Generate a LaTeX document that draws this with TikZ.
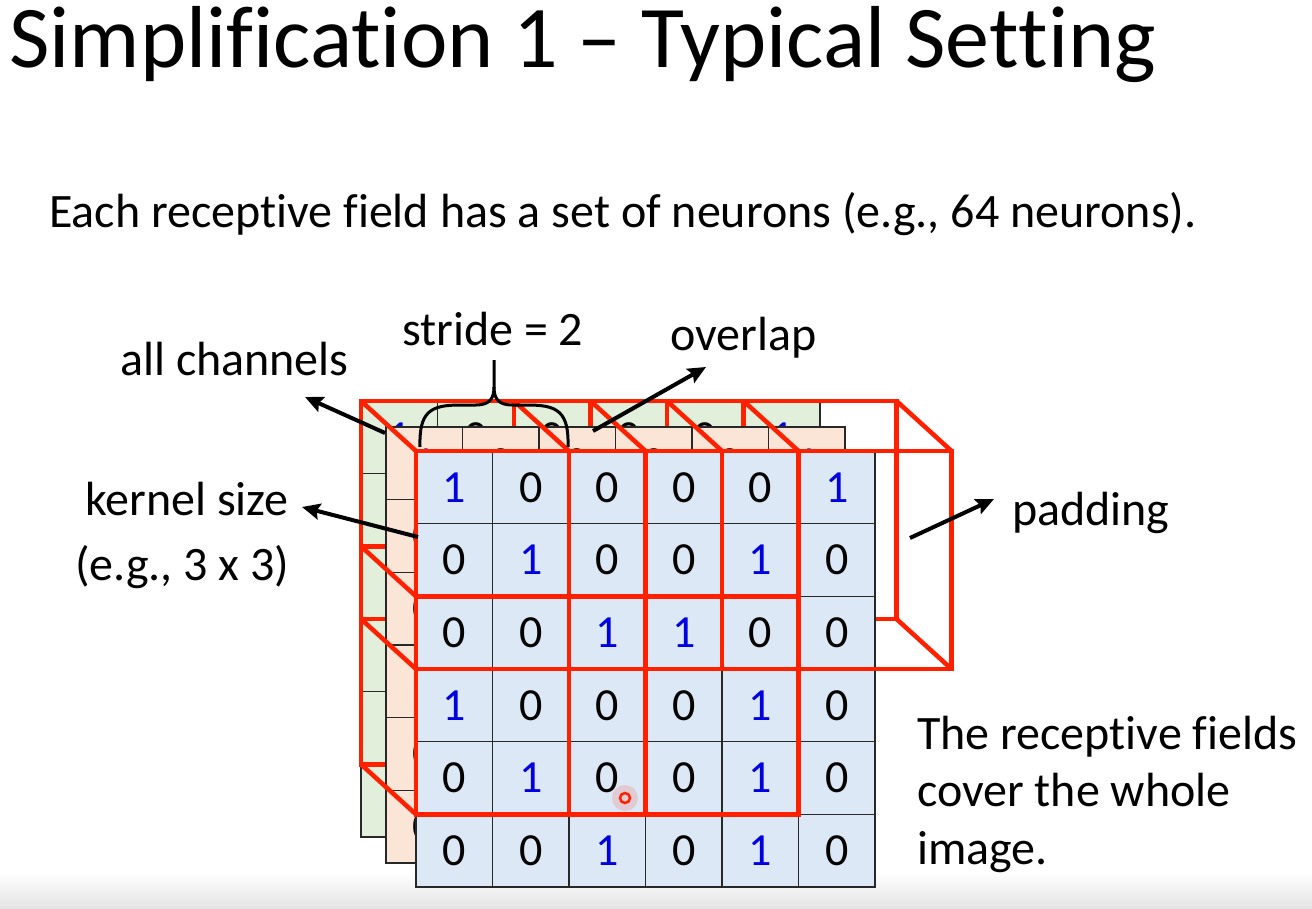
\documentclass[tikz,border=0pt]{standalone}
\usepackage{fontspec}
\setmainfont{Carlito}[Ligatures={NoCommon,NoContextual}]
\usetikzlibrary{arrows.meta,calc}
\definecolor{cellblue}{RGB}{220,232,246}
\definecolor{cellorange}{RGB}{251,229,214}
\definecolor{cellgreen}{RGB}{226,239,218}
\definecolor{numblue}{RGB}{0,0,225}
\definecolor{fieldred}{RGB}{255,32,0}
\definecolor{gridline}{RGB}{40,40,40}
\newcommand\nolig{\kern0pt }
\newcommand\dig[1]{\ifnum#1=1 \textcolor{numblue}{1}\else 0\fi}
\newcommand\drawlayer[4]{%
  \foreach \rowvals [count=\r from 0] in {{1,0,0,0,0,1},{0,1,0,0,1,0},{0,0,1,1,0,0},{1,0,0,0,1,0},{0,1,0,0,1,0},{0,0,1,0,1,0}}{%
    \foreach \v [count=\c from 0] in \rowvals{%
      \node[cell, fill=#4] (#1-\r-\c) at ({416+(#2)+76.5*(\c+0.5)},{451+(#3)+72.67*(\r+0.5)}) {\dig{\v}};
    }%
  }%
}
\begin{document}
\begin{tikzpicture}[x=1pt,y=-1pt,
  cell/.style={draw=gridline, line width=1.3pt, minimum width=76.5pt, minimum height=72.67pt, inner sep=0pt, outer sep=0pt, font=\fontsize{46}{52}\selectfont},
  redbox/.style={draw=fieldred, line width=4.5pt, line join=miter},
  reddiag/.style={draw=fieldred, line width=4.5pt},
  lab/.style={font=\fontsize{48}{57.5}\selectfont, inner sep=0pt, anchor=base west},
  conn/.style={line width=4pt, -{Stealth[length=18pt,width=16pt,inset=3pt]}},
  bracestyle/.style={line width=3pt, line join=round}
]
\useasboundingbox (0,0) rectangle (1312,909);
\fill[white] (0,0) rectangle (1312,909);
\shade[top color=white, bottom color=black!11] (0,872) rectangle (1312,909);

% title and subtitle
\node[inner sep=0pt, anchor=base west, font=\fontsize{88}{100}\selectfont] (title) at (9,68) {Simplif\nolig ication 1 – Typical Set\nolig t\nolig ing};
\node[lab] (sub) at (49,228) {Each recept\nolig ive f\nolig ield has a set of neurons (e.g., 64 neurons).};

% back channel (green)
\drawlayer{G}{-55}{-50}{cellgreen}
% back faces of receptive fields
\draw[redbox] (G-0-0.north west) rectangle (G-2-2.south east);
\draw[redbox] (G-0-2.north west) rectangle (G-2-4.south east);
\draw[redbox] (G-0-4.north west) rectangle ($(G-2-5.south east)+(76.5,0)$);
\draw[redbox] (G-2-0.north west) rectangle (G-4-2.south east);
\draw[redbox] (G-2-2.north west) rectangle (G-4-4.south east);
% middle channel (orange)
\drawlayer{O}{-30}{-24}{cellorange}
% front channel (blue)
\drawlayer{F}{0}{0}{cellblue}

% front faces
\draw[redbox] (F-0-0.north west) rectangle (F-2-2.south east);
\draw[redbox] (F-0-2.north west) rectangle (F-2-4.south east);
\draw[redbox] (F-0-4.north west) rectangle ($(F-2-5.south east)+(76.5,0)$);
\draw[redbox] (F-2-0.north west) rectangle (F-4-2.south east);
\draw[redbox] (F-2-2.north west) rectangle (F-4-4.south east);
% visible depth edges
\draw[reddiag] (G-0-0.north west) -- (F-0-0.north west);
\draw[reddiag] (G-2-0.south west) -- (F-2-0.south west);
\draw[reddiag] (G-2-0.north west) -- (F-2-0.north west);
\draw[reddiag] (G-4-0.south west) -- (F-4-0.south west);
\draw[reddiag] (G-0-2.north west) -- (F-0-2.north west);
\draw[reddiag] (G-0-2.north east) -- (F-0-2.north east);
\draw[reddiag] (G-0-4.north west) -- (F-0-4.north west);
\draw[reddiag] (G-0-4.north east) -- (F-0-4.north east);
\draw[reddiag] ($(G-0-5.north east)+(76.5,0)$) -- ($(F-0-5.north east)+(76.5,0)$);
\draw[reddiag] ($(G-2-5.south east)+(76.5,0)$) -- ($(F-2-5.south east)+(76.5,0)$);

% labels
\node[lab] (allch) at (120,375) {all channels};
\node[lab] (stride) at (402,345) {stride = 2};
\node[lab] (overlap) at (670,350) {overlap};
\node[lab] (kernel) at (85,515) {kernel size};
\node[lab] (kernel2) at (75,580) {(e.g., 3 x 3)};
\node[lab] (padding) at (1012,525) {padding};
\node[lab, align=left] (cover) at (917,864) {The recept\nolig ive f\nolig ields\\cover the whole\\image.};

% connectors
\coordinate (allchTail) at (385,433);
\coordinate (allchTip) at (305,397);
\coordinate (kernTail) at (418,537);
\coordinate (kernTip) at (302,507);
\coordinate (ovTail) at (593,431);
\coordinate (ovTip) at (706,367);
\coordinate (padTail) at (910,538);
\coordinate (padTip) at (994,499);
\draw[conn] (allchTail) -- (allchTip);
\draw[conn] (kernTail) -- (kernTip);
\draw[conn] (ovTail) -- (ovTip);
\draw[conn] (padTail) -- (padTip);

% stride brace
\coordinate (braceL) at (420,447);
\coordinate (braceR) at (568,447);
\coordinate (braceTip) at (494,360);
\draw[bracestyle] (braceL) .. controls (419,412) and (430,405) .. (460,405) -- (476,405)
  .. controls (490,405) and (494,398) .. (494,387) -- (braceTip);
\draw[bracestyle] (braceR) .. controls (569,412) and (558,405) .. (528,405) -- (512,405)
  .. controls (498,405) and (494,398) .. (494,387);

% pointer mark
\fill[fieldred, opacity=0.15] (625,798) circle (13pt);
\draw[fieldred, line width=2.5pt] (625,798) circle (5pt);
\end{tikzpicture}
\end{document}
